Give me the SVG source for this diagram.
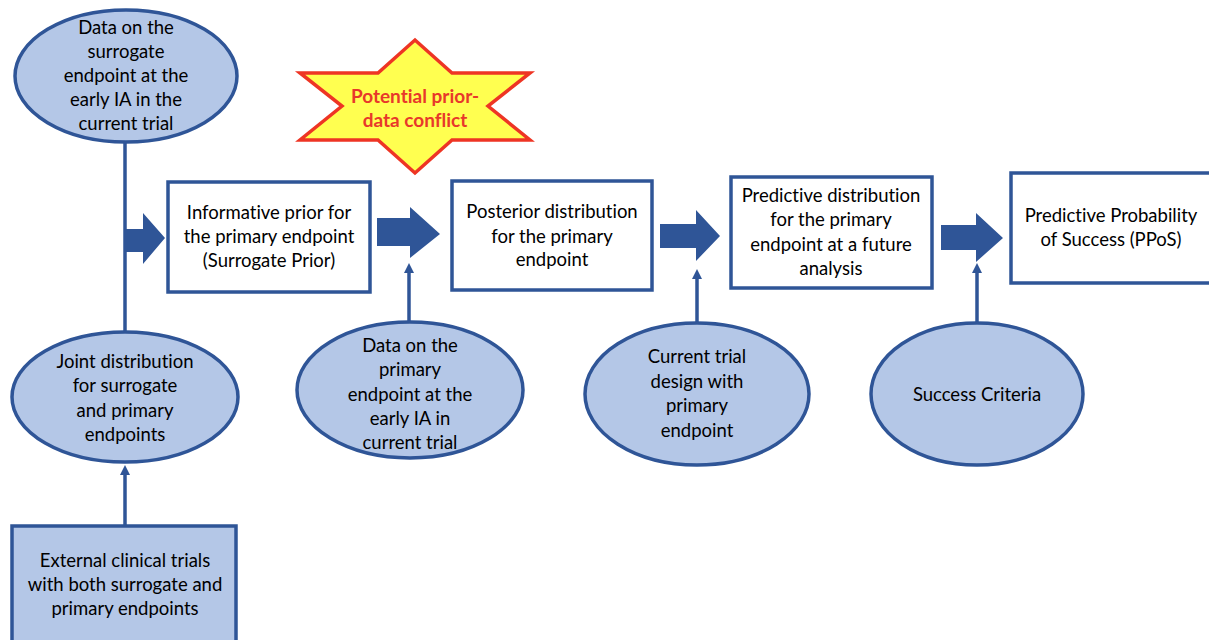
<svg xmlns="http://www.w3.org/2000/svg" width="1209" height="640" viewBox="0 0 1209 640">
<defs>
<style>
.ell{fill:#B4C7E7;stroke:#2F5597;stroke-width:3.5}
.box{fill:#FFFFFF;stroke:#2F5597;stroke-width:3.5}
.boxf{fill:#B4C7E7;stroke:#2F5597;stroke-width:3.5}
.t{font-family:Lato,"Liberation Sans",sans-serif;font-size:18.5px;fill:#000;text-anchor:middle;font-variant-ligatures:none}
.st{font-family:Lato,"Liberation Sans",sans-serif;font-size:19px;font-weight:bold;fill:#E8382A;text-anchor:middle;font-variant-ligatures:none}
.ln{stroke:#2F5597;stroke-width:3.5;fill:none}
.fat{fill:#2F5597}
</style>
<marker id="ah" markerWidth="10" markerHeight="10" refX="5" refY="5" orient="auto" markerUnits="userSpaceOnUse" viewBox="0 0 10 10">
<path d="M0,0 L10,5 L0,10 Z" fill="#2F5597"/>
</marker>
</defs>
<rect width="1209" height="640" fill="#FFFFFF"/>

<g id="connectors">
<line class="ln" x1="125" y1="142" x2="125" y2="332"/>
<line class="ln" x1="125" y1="526" x2="125" y2="470" marker-end="url(#ah)"/>
<line class="ln" x1="409" y1="322" x2="409" y2="268" marker-end="url(#ah)"/>
<line class="ln" x1="697" y1="322" x2="697" y2="274" marker-end="url(#ah)"/>
<line class="ln" x1="977" y1="323" x2="977" y2="268" marker-end="url(#ah)"/>
<polygon class="fat" points="125,229 143,229 143,213 165,238 143,264 143,252 125,252"/>
<polygon class="fat" points="377,218 410,218 410,207 440,234 410,258 410,246 377,246"/>
<polygon class="fat" points="660,224 696,224 696,210 720,236 696,261 696,248 660,248"/>
<polygon class="fat" points="941,225 976,225 976,213 1003,238 976,262 976,250 941,250"/>
</g>

<g id="star">
<polygon points="300,73 378,73 415,40 452,73 530,73 488,106 530,140 452,140 415,173 378,140 300,140 342,106" fill="#FFFF50" stroke="#EE3524" stroke-width="3.5" stroke-linejoin="miter"/>
<text class="st" x="415" y="103">Potential prior-</text>
<text class="st" x="415" y="127">data conflict</text>
</g>

<g id="n-surrogate-data">
<ellipse class="ell" cx="126" cy="76" rx="111" ry="66"/>
<text class="t" x="126" y="34">Data on the</text>
<text class="t" x="126" y="58">surrogate</text>
<text class="t" x="126" y="82">endpoint at the</text>
<text class="t" x="126" y="106">early IA in the</text>
<text class="t" x="126" y="130">current trial</text>
</g>

<g id="n-informative-prior">
<rect class="box" x="168" y="182" width="202" height="110"/>
<text class="t" x="269" y="219">Informative prior for</text>
<text class="t" x="269" y="243">the primary endpoint</text>
<text class="t" x="269" y="267">(Surrogate Prior)</text>
</g>

<g id="n-posterior">
<rect class="box" x="452" y="181" width="200" height="109"/>
<text class="t" x="552" y="218">Posterior distribution</text>
<text class="t" x="552" y="243">for the primary</text>
<text class="t" x="552" y="266">endpoint</text>
</g>

<g id="n-predictive">
<rect class="box" x="731" y="177" width="201" height="111"/>
<text class="t" x="831" y="202">Predictive distribution</text>
<text class="t" x="831" y="226">for the primary</text>
<text class="t" x="831" y="251">endpoint at a future</text>
<text class="t" x="831" y="275">analysis</text>
</g>

<g id="n-ppos">
<rect class="box" x="1011" y="173" width="210" height="110"/>
<text class="t" x="1111" y="222">Predictive Probability</text>
<text class="t" x="1111" y="246">of Success (PPoS)</text>
</g>

<g id="n-joint">
<ellipse class="ell" cx="125" cy="397" rx="113" ry="65"/>
<text class="t" x="125" y="368">Joint distribution</text>
<text class="t" x="125" y="392">for surrogate</text>
<text class="t" x="125" y="417">and primary</text>
<text class="t" x="125" y="441">endpoints</text>
</g>

<g id="n-primary-data">
<ellipse class="ell" cx="410" cy="390" rx="113" ry="68"/>
<text class="t" x="410" y="352">Data on the</text>
<text class="t" x="410" y="376">primary</text>
<text class="t" x="410" y="401">endpoint at the</text>
<text class="t" x="410" y="425">early IA in</text>
<text class="t" x="410" y="449">current trial</text>
</g>

<g id="n-design">
<ellipse class="ell" cx="697" cy="394" rx="112" ry="71"/>
<text class="t" x="697" y="363">Current trial</text>
<text class="t" x="697" y="388">design with</text>
<text class="t" x="697" y="412">primary</text>
<text class="t" x="697" y="437">endpoint</text>
</g>

<g id="n-success">
<ellipse class="ell" cx="977" cy="394" rx="106" ry="71"/>
<text class="t" x="977" y="401">Success Criteria</text>
</g>

<g id="n-external">
<rect class="boxf" x="12" y="526" width="224" height="120"/>
<text class="t" x="125" y="567">External clinical trials</text>
<text class="t" x="125" y="591">with both surrogate and</text>
<text class="t" x="125" y="615">primary endpoints</text>
</g>
</svg>
